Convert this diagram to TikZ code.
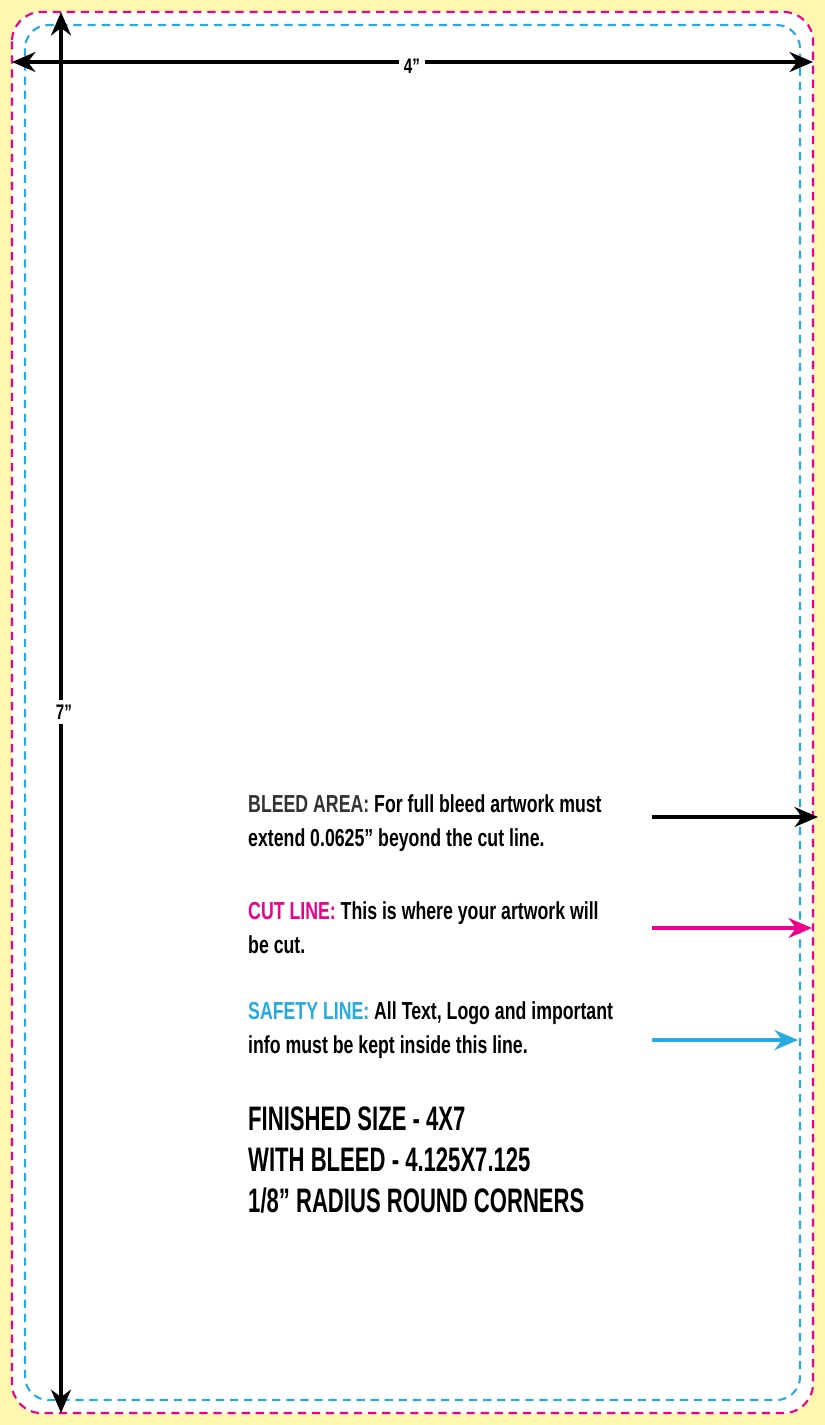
\documentclass[tikz,border=0pt]{standalone}
\usepackage{fontspec}
\setmainfont{Liberation Sans}[FakeStretch=0.72]
\newfontfamily\sizefont{Liberation Sans}[FakeStretch=0.65]
\usetikzlibrary{arrows.meta,positioning}
\definecolor{bgyellow}{RGB}{255,246,176}
\definecolor{cutpink}{RGB}{236,0,140}
\definecolor{safeblue}{RGB}{39,170,225}
\begin{document}
\begin{tikzpicture}[x=0.03cm,y=-0.03cm,
  dimarrow/.style={line width=3.2pt, {Stealth[length=20pt,width=17pt]}-{Stealth[length=20pt,width=17pt]}},
  notearrow/.style={line width=3.2pt, -{Stealth[length=20pt,width=17pt]}},
  guide/.style={line width=1.8pt, dash pattern=on 7pt off 5pt},
  note/.style={anchor=north west, align=left, font=\bfseries\fontsize{21}{29}\selectfont, inner sep=0pt},
  dimlabel/.style={fill=white, font=\bfseries\fontsize{18}{20}\selectfont, inner sep=4pt}]
    % Background and card
    \fill[bgyellow] (0,0) rectangle (825,1425);
    \fill[white, rounded corners=25] (12,12) rectangle (813,1413);
    \draw[guide, cutpink, rounded corners=25] (12,12) rectangle (813,1413);
    \draw[guide, safeblue, rounded corners=20] (25,25) rectangle (800,1400);

    % Dimensions
    \coordinate (wl) at (12,62); \coordinate (wr) at (813,62);
    \coordinate (ht) at (61,12); \coordinate (hb) at (61,1413);
    \draw[dimarrow] (wl) -- (wr);
    \draw[dimarrow] (ht) -- (hb);
    \node[dimlabel] (wlab) at (412,66) {4”};
    \node[dimlabel] (hlab) at (64,712) {7”};

    % Notes
    \node[note] (bleed) at (248,794) {{\color{black!80}BLEED AREA:} For full bleed artwork must\\extend 0.0625” beyond the cut line.};
    \node[note] (cut) at (248,901) {{\color{cutpink}CUT LINE:} This is where your artwork will\\be cut.};
    \node[note] (safe) at (248,1001) {{\color{safeblue}SAFETY LINE:} All Text, Logo and important\\info must be kept inside this line.};
    \node[note, font=\sizefont\bfseries\fontsize{29}{35}\selectfont] (size) at (248,1107) {FINISHED SIZE - 4X7\\WITH BLEED - 4.125X7.125\\1/8” RADIUS ROUND CORNERS};

    % Pointer arrows
    \coordinate (bleedstart) at (652,817); \coordinate (bleedend) at (818,817);
    \coordinate (cutstart) at (652,928); \coordinate (cutend) at (812,928);
    \coordinate (safestart) at (652,1040); \coordinate (safeend) at (798,1040);
    \draw[notearrow] (bleedstart) -- (bleedend);
    \draw[notearrow, cutpink] (cutstart) -- (cutend);
    \draw[notearrow, safeblue] (safestart) -- (safeend);
\end{tikzpicture}
\end{document}
